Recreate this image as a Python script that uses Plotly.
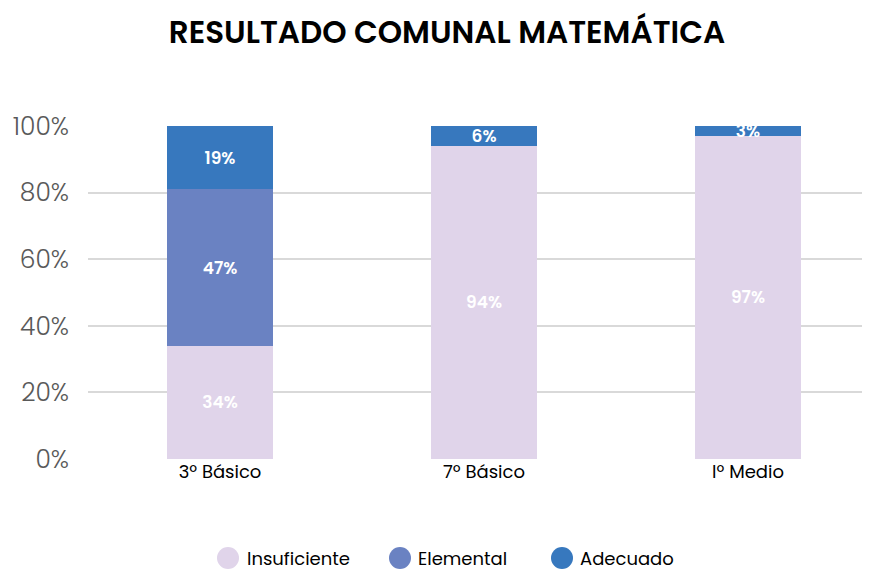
import plotly.graph_objects as go

categories = ["3º Básico", "7º Básico", "Iº Medio"]
insuficiente = [34, 94, 97]
elemental = [47, 0, 0]
adecuado = [19, 6, 3]
y_ticks = [0, 20, 40, 60, 80, 100]
y_tick_labels = ["0%", "20%", "40%", "60%", "80%", "100%"]

series_names = ["Insuficiente", "Elemental", "Adecuado"]
series_values = [insuficiente, elemental, adecuado]
series_colors = ["#E0D4EA", "#6A82C2", "#3778BE"]

FONT = "Poppins, Inter, sans-serif"
OFF = 8  # page body margin offset
W, H = 870 - OFF, 571 - OFF
L, T = 88 - OFF, 126 - OFF
R = 0
B = H - (459 - OFF)
PW, PH = W - L - R, H - T - B

fig = go.Figure()
for name, vals, color in zip(series_names, series_values, series_colors):
    fig.add_trace(go.Bar(
        x=categories, y=vals, name=name,
        marker=dict(color=color, line=dict(width=0)),
        text=[f"{v}%" if v > 0 else "" for v in vals],
        textposition="inside", insidetextanchor="middle",
        textangle=0, constraintext="none",
        textfont=dict(color="white", size=17, family=FONT, weight=600),
        width=0.4, showlegend=False, hoverinfo="skip",
    ))

# custom legend (circles + labels) below the plot
legend_circle_px = [228, 400, 562]
legend_text_px = [245, 416, 578]
legend_y_px = 558
shapes, annotations = [], []
for name, color, cx, tx in zip(series_names, series_colors, legend_circle_px, legend_text_px):
    xp = (cx - OFF - L) / PW
    yp = ((459 - OFF) - (legend_y_px - OFF)) / PH
    shapes.append(dict(type="circle", xref="paper", yref="paper",
                       xsizemode="pixel", ysizemode="pixel",
                       xanchor=xp, yanchor=yp, x0=-11, x1=11, y0=-11, y1=11,
                       fillcolor=color, line=dict(width=0)))
    annotations.append(dict(text=name, xref="paper", yref="paper",
                            x=(tx - OFF - L) / PW, y=yp, xanchor="left", yanchor="middle",
                            showarrow=False, font=dict(size=18, color="black", family=FONT)))

fig.update_layout(
    width=W, height=H,
    barmode="stack",
    paper_bgcolor="white", plot_bgcolor="white",
    margin=dict(l=L, r=R, t=T, b=B, autoexpand=False, pad=0),
    title=dict(text="RESULTADO COMUNAL MATEMÁTICA", x=(447 - OFF) / W, xanchor="center",
               y=1 - (32 - OFF) / H, yanchor="middle",
               font=dict(family=FONT, size=31, color="black", weight=600)),
    font=dict(family=FONT),
    xaxis=dict(range=[-0.5, -0.5 + PW / 264], showgrid=False, zeroline=False,
               showline=False, tickfont=dict(size=18, color="black"), ticks="",
               automargin=False),
    yaxis=dict(range=[0, 100], tickvals=y_ticks, ticktext=y_tick_labels,
               showgrid=True, gridcolor="#D9D9D9", gridwidth=2, zeroline=False,
               tickfont=dict(size=25, color="#595959", weight=300),
               ticklabelstandoff=18, automargin=False),
    showlegend=False,
    shapes=shapes, annotations=annotations,
    uniformtext=dict(minsize=17, mode="show"),
)

fig.write_html("out.html")
